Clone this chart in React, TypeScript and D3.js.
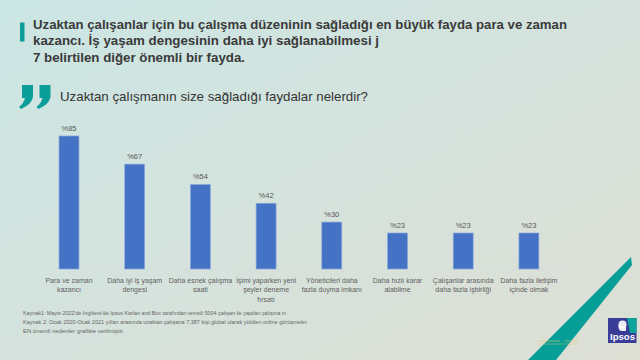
import React from "react";
import * as d3 from "d3";

const categories: string[][] = [
  ["Para ve zaman", "kazancı"],
  ["Daha iyi iş yaşam", "dengesi"],
  ["Daha esnek çalışma", "saati"],
  ["İşimi yaparken yeni", "şeyler deneme", "fırsatı"],
  ["Yöneticileri daha", "fazla duyma imkanı"],
  ["Daha hızlı karar", "alabilme"],
  ["Çalışanlar arasında", "daha fazla işbirliği"],
  ["Daha fazla iletişim", "içinde olmak"],
];
const values: number[] = [85, 67, 54, 42, 30, 23, 23, 23];
const titleLines: string[] = [
  "Uzaktan çalışanlar için bu çalışma düzeninin sağladığı en büyük fayda para ve zaman",
  "kazancı. İş yaşam dengesinin daha iyi sağlanabilmesi j",
  "7 belirtilen diğer önemli bir fayda.",
];
const subtitle = "Uzaktan çalışmanın size sağladığı faydalar nelerdir?";
const footnotes: string[] = [
  "Kaynak1: Mayıs 2022'de İngiltere'de Ipsos Karlan and Box tarafından temsili 5004 çalışan ile yapılan çalışma in",
  "Kaynak 2: Ocak 2020-Ocak 2021 yılları arasında uzaktan çalışana 7,387 kişi global olarak yütülen online görüşmeler.",
  "EN önemli nedenler grafikte verilmiştir.",
];

const W = 640;
const H = 360;

export default function App() {
  const keys = categories.map((c, i) => String(i));
  const x = d3
    .scaleBand<string>()
    .domain(keys)
    .range([36.15, 561.75])
    .paddingInner(0.696)
    .paddingOuter(0.348);
  const y = d3.scaleLinear().domain([0, 100]).range([269, 112.5]);

  const quote = (ox: number) =>
    `M${ox + 4},85 L${ox + 15},85 L${ox + 15},97 Q${ox + 14},104 ${ox + 3},109 L${ox + 1},107 Q${ox + 6},103 ${ox + 7},98 L${ox + 4},98 Z`;

  const titleW = [534, 346, 212];
  const footW = [263, 285, 101];

  return (
    <svg
      width={W}
      height={H}
      style={{ position: "fixed", left: 0, top: 0, display: "block" }}
      fontFamily="'Liberation Sans', Arial, sans-serif"
    >
      <defs>
        <linearGradient id="bg" x1="0" y1="0" x2="1" y2="1">
          <stop offset="0%" stopColor="#cbe6e4" />
          <stop offset="55%" stopColor="#d6e2dc" />
          <stop offset="100%" stopColor="#dddfd4" />
        </linearGradient>
      </defs>
      <rect x={0} y={0} width={W} height={H} fill="url(#bg)" />

      {/* title */}
      <rect x={20} y={22.5} width={4.5} height={19} fill="#0b9d97" />
      {titleLines.map((t, i) => (
        <text
          key={i}
          x={33}
          y={28.5 + i * 16.6}
          fontSize={12.5}
          fontWeight="bold"
          fill="#3a3a3a"
          textLength={titleW[i]}
          lengthAdjust="spacingAndGlyphs"
        >
          {t}
        </text>
      ))}

      {/* quote marks + subtitle */}
      <path d={quote(18)} fill="#0b9d97" />
      <path d={quote(35.5)} fill="#0b9d97" />
      <text x={60} y={101} fontSize={13} fill="#333" textLength={308} lengthAdjust="spacingAndGlyphs">
        {subtitle}
      </text>

      {/* baseline */}
      <line x1={36} x2={562} y1={269.5} y2={269.5} stroke="#d4dcd8" strokeWidth={0.8} />

      {/* bars */}
      {values.map((v, i) => (
        <g key={i}>
          <rect
            x={x(keys[i])}
            y={y(v)}
            width={x.bandwidth()}
            height={y(0) - y(v)}
            fill="#4472c4"
            stroke="#8eaadb"
            strokeWidth={0.7}
          />
          <text
            x={(x(keys[i]) as number) + x.bandwidth() / 2}
            y={y(v) - 5}
            textAnchor="middle"
            fontSize={7.5}
            fill="#595959"
          >
            %{v}
          </text>
          {categories[i].map((line, j) => (
            <text
              key={j}
              x={(x(keys[i]) as number) + x.bandwidth() / 2}
              y={282.5 + j * 9.6}
              textAnchor="middle"
              fontSize={7}
              fill="#5f5f5f"
            >
              {line}
            </text>
          ))}
        </g>
      ))}

      {/* footnotes */}
      {footnotes.map((f, i) => (
        <text
          key={i}
          x={23}
          y={314.5 + i * 9.2}
          fontSize={5.8}
          fill="#666"
          textLength={footW[i]}
          lengthAdjust="spacingAndGlyphs"
        >
          {f}
        </text>
      ))}

      {/* decorative band */}
      <polygon points="631,257 632,265 556,360 528,360" fill="#079e97" />
      <line x1={538} x2={560} y1={341} y2={341} stroke="#e8c46a" strokeWidth={0.7} opacity={0.8} />
      <line x1={565} x2={578} y1={341} y2={341} stroke="#e8c46a" strokeWidth={0.7} opacity={0.8} />
      <line x1={538} x2={578} y1={344} y2={344} stroke="#e8c46a" strokeWidth={0.7} opacity={0.6} />

      {/* logo */}
      <rect x={608} y={318} width={28.5} height={25} fill="#3a3d97" />
      <polygon points="627,318 636.5,318 636.5,333 630,333" fill="#0aa39a" />
      <circle cx={622.5} cy={324.5} r={4} fill="#ffffff" opacity={0.9} />
      <path d="M618.5,325 Q618,331 622,331 L626,331 L626,327 Z" fill="#ffffff" opacity={0.9} />
      <text x={610} y={340} fontSize={8.2} fontWeight="bold" fill="#ffffff" textLength={25} lengthAdjust="spacingAndGlyphs">
        Ipsos
      </text>
    </svg>
  );
}
